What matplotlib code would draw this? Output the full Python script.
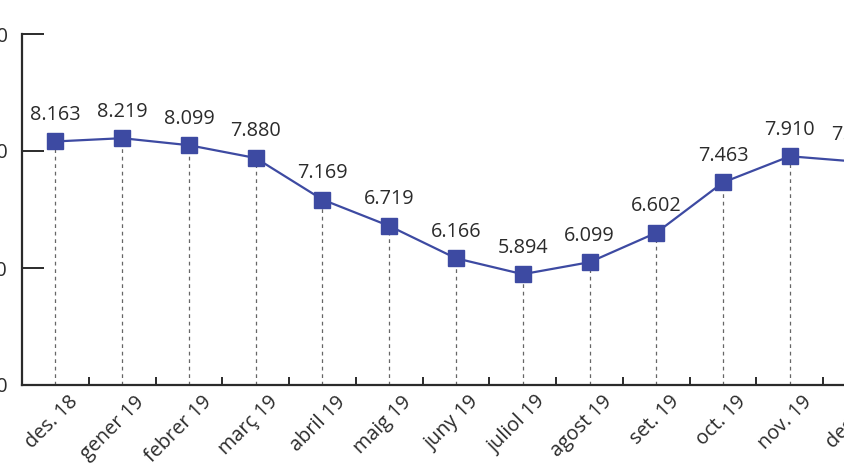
import matplotlib.pyplot as plt
import numpy as np
from matplotlib.transforms import ScaledTranslation

plt.rcParams['font.family'] = ['Open Sans', 'DejaVu Sans']

# dades
mesos = ['des. 18', 'gener 19', 'febrer 19', 'març 19', 'abril 19', 'maig 19',
         'juny 19', 'juliol 19', 'agost 19', 'set. 19', 'oct. 19', 'nov. 19', 'des. 19']
valors = [8163, 8219, 8099, 7880, 7169, 6719, 6166, 5894, 6099, 6602, 7463, 7910, 7818]
yticks = [4000, 6000, 8000, 10000]

def punts(v):
    return f"{v:,}".replace(',', '.')

blau = '#3d4aa2'
fosc = '#2b2b2b'

fig = plt.figure(figsize=(8.44, 4.74), dpi=100)
ax = fig.add_axes([22 / 844, 89 / 474, 868 / 844, 351 / 474])

x = np.arange(len(mesos))

# linies verticals discontinues
ax.vlines(x, yticks[0], valors, colors='#666666', linestyles=(0, (3, 3)), lw=0.9, zorder=1)

ax.plot(x, valors, color=blau, lw=1.6, marker='s', ms=11, mfc=blau, mec=blau, zorder=3, clip_on=False)

for xi, v in zip(x, valors):
    ax.annotate(punts(v), (xi, v), xytext=(0, 12), textcoords='offset points',
                ha='center', va='bottom', fontsize=14.3, color=fosc, annotation_clip=False)

ax.set_xlim(-0.5, len(mesos) - 0.5)
ax.set_ylim(yticks[0], yticks[-1])

ax.set_yticks(yticks)
ax.set_yticklabels([punts(t) for t in yticks])
ax.tick_params(axis='y', direction='in', length=16, width=1.4, color=fosc, pad=10,
               labelsize=14.3, labelcolor=fosc)

ax.set_xticks(x)
ax.set_xticklabels(mesos, rotation=45, ha='right', va='top', rotation_mode='anchor')
ax.set_xticks(np.arange(0.5, len(mesos) - 0.5, 1), minor=True)
ax.tick_params(axis='x', which='major', length=0, pad=5, labelsize=14.3, labelcolor=fosc)
ax.tick_params(axis='x', which='minor', direction='in', length=6, width=1.4, color=fosc)

offset = ScaledTranslation(9 / 72, 0, fig.dpi_scale_trans)
for lab in ax.get_xticklabels():
    lab.set_transform(lab.get_transform() + offset)

for s in ['top', 'right']:
    ax.spines[s].set_visible(False)
for s in ['left', 'bottom']:
    ax.spines[s].set_linewidth(1.6)
    ax.spines[s].set_color(fosc)

fig.savefig('out.png', dpi=100)
